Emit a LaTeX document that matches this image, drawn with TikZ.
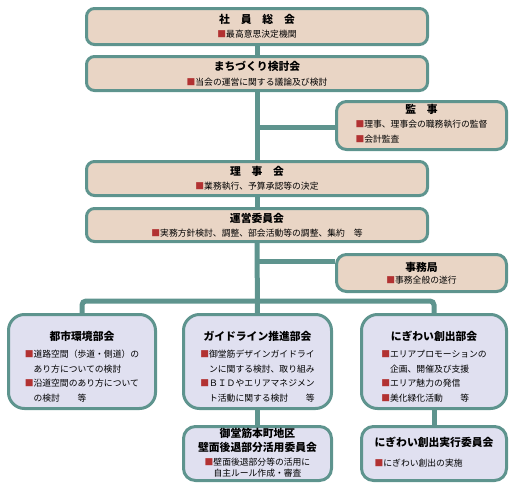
\documentclass[tikz,border=0pt]{standalone}
\usepackage{fontspec}
\setmainfont{Noto Sans CJK JP}
\usetikzlibrary{backgrounds}
\definecolor{bordc}{RGB}{94,148,142}
\definecolor{beige}{RGB}{233,213,197}
\definecolor{lav}{RGB}{224,224,240}
\definecolor{sqred}{RGB}{178,50,50}
\newcommand\sq{{\color{sqred}■}}
\newcommand\ttl[1]{{\fontsize{10.8}{13}\selectfont\bfseries #1}}
\newcommand\bodyf{\fontsize{8.8}{14.5}\selectfont}
\newcommand\smallf{\fontsize{8.8}{11}\selectfont}
\newcommand\ttlf{\fontsize{10.8}{12.5}\selectfont\bfseries}
\newcommand\lowpad{\rule{0pt}{23pt}}
\tikzset{
  topbox/.style={draw=bordc, line width=3pt, fill=beige, rounded corners=8pt,
    minimum width=341pt, align=center, inner sep=0pt, font=\bodyf},
  sidebox/.style={draw=bordc, line width=3pt, fill=beige, rounded corners=10pt,
    minimum width=170pt, align=center, inner sep=0pt, font=\bodyf},
  lowbox/.style={draw=bordc, line width=3pt, fill=lav, rounded corners=16pt,
    minimum width=147pt, align=center, inner sep=0pt, font=\bodyf},
  conn/.style={draw=bordc, line width=5pt}
}
\begin{document}
\begin{tikzpicture}[x=1pt,y=-1pt]
\useasboundingbox (0,0) rectangle (515,490);
\node[topbox, minimum height=36pt] (shain) at (257,26.5)
  {\ttl{社　員　総　会}\\ \sq 最高意思決定機関};
\node[topbox, minimum height=34pt] (machi) at (257,73.5)
  {\ttl{まちづくり検討会}\\ \sq 当会の運営に関する議論及び検討};
\node[sidebox, minimum height=48pt] (kanji) at (421.5,125.5)
  {\ttl{監　事}\\[2pt] \begin{tabular}{@{}l@{}}\sq 理事、理事会の職務執行の監督\\ \sq 会計監査\end{tabular}};
\node[topbox, minimum height=34pt] (riji) at (257,178.5)
  {\ttl{理　事　会}\\ \sq 業務執行、予算承認等の決定};
\node[topbox, minimum height=33pt] (unei) at (257,225)
  {\ttl{運営委員会}\\ \sq 実務方針検討、調整、部会活動等の調整、集約　等};
\node[sidebox, minimum height=37pt] (jimu) at (421.5,273)
  {\ttl{事務局}\\[-3pt] \sq 事務全般の遂行};
\node[lowbox, minimum height=94pt] (toshi) at (82,361.5)
  {\lowpad\ttl{都市環境部会}\\[5pt]
   \begin{tabular}{@{}l@{}}\sq 道路空間（歩道・側道）の\\ 　あり方についての検討\\ \sq 沿道空間のあり方について\\ 　の検討　　等\end{tabular}};
\node[lowbox, minimum height=94pt, minimum width=148pt] (guide) at (257.5,361.5)
  {\lowpad\ttl{ガイドライン推進部会}\\[5pt]
   \begin{tabular}{@{}l@{}}\sq 御堂筋デザインガイドライ\\ 　ンに関する検討、取り組み\\ \sq ＢＩＤやエリアマネジメン\\ 　ト活動に関する検討　　等\end{tabular}};
\node[lowbox, minimum height=94pt, minimum width=145pt] (nigi) at (434,361.5)
  {\lowpad\ttl{にぎわい創出部会}\\[5pt]
   \begin{tabular}{@{}l@{}}\sq エリアプロモーションの\\ 　企画、開催及び支援\\ \sq エリア魅力の発信\\ \sq 美化緑化活動　　等\end{tabular}};
\node[lowbox, minimum height=54pt, minimum width=148pt, rounded corners=12pt] (mido) at (257.5,453.5)
  {\begin{tabular}{@{}c@{}}\ttlf 御堂筋本町地区\\ \ttlf 壁面後退部分活用委員会\end{tabular}\\[1pt]
   \smallf\begin{tabular}{@{}l@{}}\sq 壁面後退部分等の活用に\\ 　自主ルール作成・審査\end{tabular}};
\node[lowbox, minimum height=54pt, minimum width=145pt, rounded corners=12pt] (jikko) at (434,453.5)
  {\begin{tabular}{@{}l@{}}\ttl{にぎわい創出実行委員会}\\[5pt] \sq にぎわい創出の実施\end{tabular}};
\coordinate (bk) at (257,127);
\coordinate (bj) at (257,261);
\coordinate (busc) at (257,301);
\begin{scope}[on background layer]
\draw[conn] (shain.south) -- (machi.north);
\draw[conn] (machi.south) -- (riji.north);
\draw[conn] (riji.south) -- (unei.north);
\draw[conn] (unei.south) -- (guide.north);
\draw[conn] (bk) -- (bk -| kanji.west);
\draw[conn] (bj) -- (bj -| jimu.west);
\draw[conn, rounded corners=4pt] (toshi.north) |- (busc) -| (nigi.north);
\draw[conn] (guide.south) -- (mido.north);
\draw[conn] (nigi.south) -- (jikko.north);
\end{scope}
\end{tikzpicture}
\end{document}
